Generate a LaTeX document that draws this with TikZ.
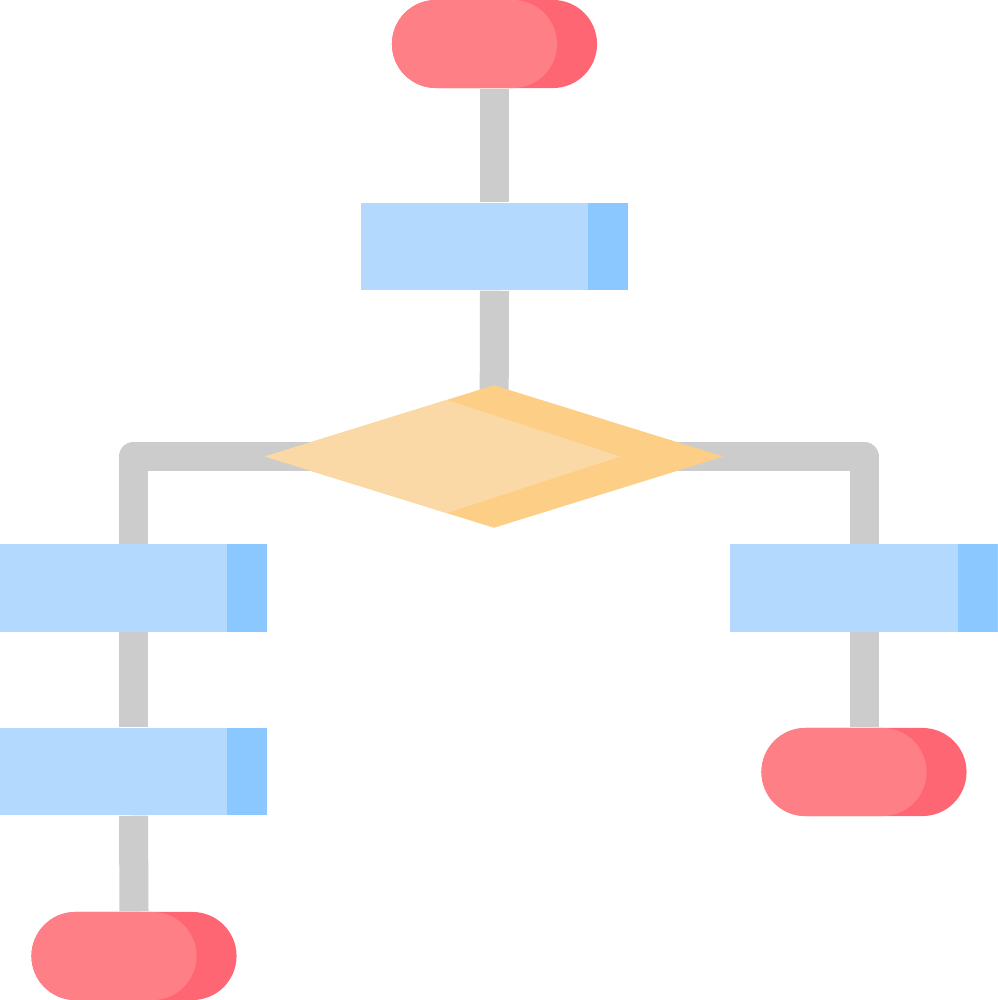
\documentclass[tikz,border=0pt]{standalone}
\usepackage{tikz}
\usetikzlibrary{shapes.geometric}
\usetikzlibrary{backgrounds}
\definecolor{wiregray}{HTML}{CCCCCC}
\definecolor{termlight}{HTML}{FF7F87}
\definecolor{termdark}{HTML}{FF6673}
\definecolor{proclight}{HTML}{B3D9FF}
\definecolor{procdark}{HTML}{8AC8FF}
\definecolor{declight}{HTML}{FBD9A6}
\definecolor{decdark}{HTML}{FDCE85}

\tikzset{
    terminal/.style={shape=rectangle, rounded corners=0.44cm, minimum width=2.05cm, minimum height=0.88cm, inner sep=0pt, fill=termdark,
        path picture={\fill[termlight] (path picture bounding box.south west) rectangle ([xshift=-0.4cm]path picture bounding box.north east);}},
    process/.style={shape=rectangle, minimum width=2.67cm, minimum height=0.87cm, inner sep=0pt, fill=proclight,
        path picture={\fill[procdark] ([xshift=-0.4cm]path picture bounding box.south east) rectangle (path picture bounding box.north east);}},
    decision/.style={shape=diamond, minimum width=4.59cm, minimum height=1.43cm, inner sep=0pt, fill=decdark,
        path picture={\fill[declight] (path picture bounding box.west) -- ([shift={(-0.47cm,0.565cm)}]path picture bounding box.center) -- ([xshift=1.26cm]path picture bounding box.center) -- ([shift={(-0.47cm,-0.565cm)}]path picture bounding box.center) -- cycle;}},
    wire/.style={draw=wiregray, line width=0.29cm, line join=round}
}

\begin{document}
\begin{tikzpicture}[x=0.01cm, y=-0.01cm]
    	\useasboundingbox (0, 0) rectangle (998, 1000);
    	% Nodes:
    	\node[terminal](T1) at (494.5, 44){};
    	\node[process](P1) at (494.5, 246.5){};
    	\node[decision](D1) at (494, 456.5){};
    	\node[process](P2) at (133.5, 588){};
    	\node[process](P3) at (133.5, 771.5){};
    	\node[terminal](T2) at (134, 956){};
    	\node[process](P4) at (864, 588){};
    	\node[terminal](T3) at (864, 772){};
    	% Wires:
    	\begin{scope}[on background layer]
    	\draw[wire] (T1.south) -- (P1.north);
    	\draw[wire] (P1.south) -- (D1.center);
    	\draw[wire] (P2.north) |- (D1.center) -| (P4.north);
    	\draw[wire] (P2.south) -- (P3.north);
    	\draw[wire] (P3.south) -- (T2.north);
    	\draw[wire] (P4.south) -- (T3.north);
    	\end{scope}
\end{tikzpicture}
\end{document}
